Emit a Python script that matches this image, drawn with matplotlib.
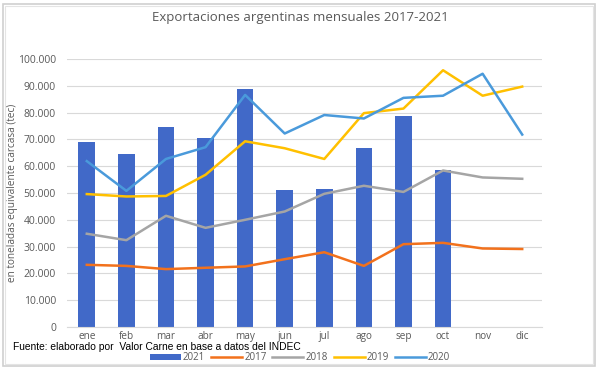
import matplotlib
matplotlib.use("Agg")
import matplotlib.pyplot as plt
import numpy as np
from matplotlib.patches import Rectangle
from matplotlib.ticker import FuncFormatter

months = ["ene", "feb", "mar", "abr", "may", "jun", "jul", "ago", "sep", "oct", "nov", "dic"]
y2021 = [69100, 64600, 74800, 70400, 88700, 51200, 51400, 66900, 78900, 58600]
y2017 = [23200, 22800, 21600, 22100, 22600, 25300, 27900, 22800, 30900, 31400, 29300, 29100]
y2018 = [34800, 32400, 41500, 37000, 40000, 43100, 49700, 52700, 50400, 58400, 55800, 55300]
y2019 = [49600, 48700, 48900, 56800, 69300, 66700, 62700, 79800, 81500, 95800, 86300, 89700]
y2020 = [61900, 50800, 62700, 67100, 86600, 72200, 79100, 77800, 85500, 86300, 94500, 71800]
yticks = [0, 10000, 20000, 30000, 40000, 50000, 60000, 70000, 80000, 90000, 100000]

plt.rcParams['font.family'] = ['Open Sans', 'DejaVu Sans']
fig = plt.figure(figsize=(6, 3.7), dpi=100)
ax = fig.add_axes([67/600, 1-327/370, (542-67)/600, (327-59)/370])

x = np.arange(len(months))
ax.bar(x[:len(y2021)], y2021, width=0.42, color="#4169C8", label="2021", zorder=2)
lw = 1.8
ax.plot(x, y2017, color="#F2711C", lw=lw, label="2017", zorder=3)
ax.plot(x, y2018, color="#A5A5A5", lw=lw, label="2018", zorder=3)
ax.plot(x, y2019, color="#FFC000", lw=lw, label="2019", zorder=3)
ax.plot(x, y2020, color="#4A9ADB", lw=lw, label="2020", zorder=3)

ax.set_xlim(-0.5, 11.5)
ax.set_ylim(0, 100000)
ax.set_yticks(yticks)
ax.yaxis.set_major_formatter(FuncFormatter(lambda v, p: "0" if v == 0 else f"{int(v):,}".replace(",", ".")))
ax.set_xticks(x)
ax.set_xticklabels(months)
ax.tick_params(axis='both', length=0, labelsize=7.5, colors="#595959")
ax.tick_params(axis='x', labelsize=7.2, pad=3)
ax.tick_params(axis='y', pad=8)
ax.grid(axis='y', color="#D9D9D9", lw=0.8, zorder=0)
for s in ["top", "right", "left"]:
    ax.spines[s].set_visible(False)
ax.spines["bottom"].set_color("#D9D9D9")
ax.set_ylabel("en toneladas equivalente carcasa (tec)", fontsize=7.2, color="#595959")
ax.yaxis.set_label_coords(-0.103, 0.5)

fig.text(0.5, 1-18/370, "Exportaciones argentinas mensuales 2017-2021", ha="center", va="center",
         fontsize=9.5, color="#595959")
fig.text(13/600, 1-347.5/370, "Fuente: elaborado por  Valor Carne en base a datos del INDEC", ha="left", va="center",
         fontsize=7.4, color="black", family=["Liberation Sans", "DejaVu Sans"])

h, l = ax.get_legend_handles_labels()
order = [l.index(k) for k in ["2021", "2017", "2018", "2019", "2020"]]
fig.legend([h[i] for i in order], [l[i] for i in order], loc="center",
           bbox_to_anchor=(300/600, 1-358/370), ncol=5, frameon=False,
           fontsize=7, labelcolor="#595959", handlelength=3.2, handletextpad=0.2, columnspacing=0.6,
           handleheight=0.5)

# outer frame (selection border)
fig.patches.append(Rectangle((3/600, 4/370), 592/600, 362/370, transform=fig.transFigure,
                             fill=False, ec="#D0D0D0", lw=1.2))
fig.patches.append(Rectangle((5/600, 6/370), 588/600, 358/370, transform=fig.transFigure,
                             fill=False, ec="#E4E4E4", lw=0.8))

fig.savefig("out.png", dpi=100)
